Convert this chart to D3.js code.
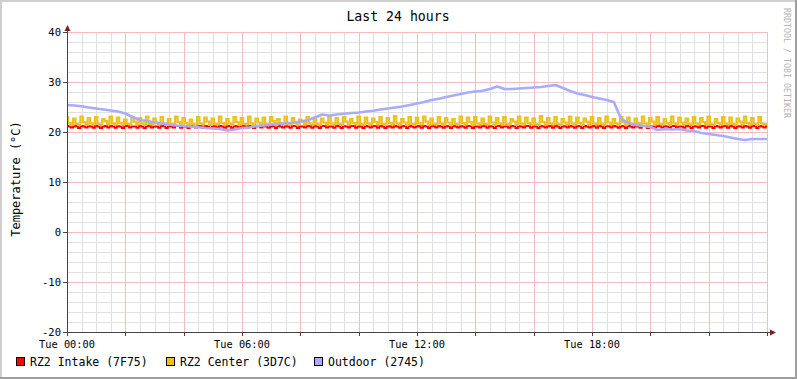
<!DOCTYPE html>
<html>
<head>
<meta charset="utf-8">
<script src="https://cdn.jsdelivr.net/npm/d3@7"></script>
<style>
  html, body { margin: 0; padding: 0; background: #fff; }
  svg { display: block; }
  text { font-family: "DejaVu Sans Mono", monospace; }
</style>
</head>
<body>
<svg id="chart" width="797" height="379"></svg>
<script>
// ---------------- data ----------------
const title = "Last 24 hours";
const yAxisLabel = "Temperature (°C)";
const watermark = "RRDTOOL / TOBI OETIKER";
const xTickHours = [0, 6, 12, 18];
const xTickLabels = ["Tue 00:00", "Tue 06:00", "Tue 12:00", "Tue 18:00"];
const yTicks = [40, 30, 20, 10, 0, -10, -20];
const seriesNames = ["RZ2 Intake (7F75)", "RZ2 Center (3D7C)", "Outdoor (2745)"];
const seriesColors = ["#ff0000", "#ecc11c", "#aaaaff"];

// RZ2 Intake, 5-minute samples, 00:00 .. 24:00
const intake = [
21.2,21.1,20.9, 21.1,21.2,20.8, 21.2,21.1,20.9, 21.15,21.1,20.85, 21.2,21.1,20.8, 21.1,21.2,20.9, 21.2,21.1,20.85, 21.15,21.1,20.8, 21.2,21.2,20.9, 21.1,21.1,20.85, 21.2,21.1,20.8, 21.15,21.2,20.9,
21.1,21.1,20.85, 21.2,21.15,20.8, 21.15,21.1,20.9, 21.2,21.2,20.85, 21.1,21.1,20.8, 21.2,21.1,20.9, 21.15,21.2,20.85, 21.2,21.1,20.8, 21.1,21.15,20.9, 21.2,21.1,20.85, 21.15,21.2,20.8, 21.2,21.1,20.9,
21.1,21.2,20.85, 21.2,21.1,20.8, 21.15,21.15,20.9, 21.2,21.1,20.85, 21.1,21.2,20.8, 21.2,21.1,20.9, 21.15,21.1,20.85, 21.2,21.2,20.8, 21.1,21.1,20.9, 21.2,21.15,20.85, 21.15,21.1,20.8, 21.2,21.2,20.9,
21.1,21.1,20.85, 21.2,21.15,20.8, 21.15,21.1,20.9, 21.2,21.2,20.85, 21.1,21.1,20.8, 21.2,21.1,20.9, 21.15,21.2,20.85, 21.2,21.1,20.8, 21.1,21.15,20.9, 21.2,21.1,20.85, 21.15,21.2,20.8, 21.2,21.1,20.9,
21.1,21.2,20.85, 21.2,21.1,20.8, 21.15,21.15,20.9, 21.2,21.1,20.85, 21.1,21.2,20.8, 21.2,21.1,20.9, 21.15,21.1,20.85, 21.2,21.2,20.8, 21.1,21.1,20.9, 21.2,21.15,20.85, 21.15,21.1,20.8, 21.2,21.2,20.9,
21.1,21.1,20.85, 21.2,21.15,20.8, 21.15,21.1,20.9, 21.2,21.2,20.85, 21.1,21.1,20.8, 21.2,21.1,20.9, 21.15,21.2,20.85, 21.2,21.1,20.8, 21.1,21.15,20.9, 21.2,21.1,20.85, 21.15,21.2,20.8, 21.2,21.1,20.9,
21.1,21.2,20.85, 21.2,21.1,20.8, 21.15,21.15,20.9, 21.2,21.1,20.85, 21.1,21.2,20.8, 21.2,21.1,20.9, 21.15,21.1,20.85, 21.2,21.2,20.8, 21.1,21.1,20.9, 21.2,21.15,20.85, 21.15,21.1,20.8, 21.2,21.2,20.9,
21.1,21.1,20.85, 21.2,21.15,20.8, 21.15,21.1,20.9, 21.2,21.2,20.85, 21.1,21.1,20.8, 21.2,21.1,20.9, 21.15,21.2,20.85, 21.2,21.1,20.8, 21.1,21.15,20.9, 21.2,21.1,20.85, 21.15,21.2,20.8, 21.2,21.1,20.9,
21.15
];

// RZ2 Center, 5-minute samples, 00:00 .. 24:00
const center = [
23.0,21.8,21.5, 22.7,21.6,21.4, 23.1,22.0,21.5, 22.8,21.7,21.5, 23.0,21.6,21.4, 22.6,22.2,21.5, 23.1,21.7,21.5, 22.9,21.8,21.4, 22.5,21.6,21.5, 23.0,22.1,21.5, 22.8,21.7,21.4, 23.1,21.6,21.5,
22.7,21.9,21.5, 23.0,21.7,21.4, 22.6,21.6,21.5, 23.1,22.0,21.5, 22.8,21.8,21.4, 22.5,21.6,21.5, 23.0,21.7,21.5, 22.9,22.1,21.4, 22.7,21.6,21.5, 23.1,21.8,21.5, 22.6,21.7,21.4, 23.0,22.0,21.5,
22.8,21.6,21.5, 23.1,21.7,21.4, 22.7,21.9,21.5, 22.9,21.6,21.5, 23.0,22.2,21.4, 22.6,21.7,21.5, 23.1,21.6,21.5, 22.8,21.8,21.4, 22.5,22.0,21.5, 23.0,21.7,21.5, 22.9,21.6,21.4, 22.7,21.9,21.5,
23.1,21.7,21.5, 22.8,21.6,21.4, 23.0,22.1,21.5, 22.6,21.8,21.5, 23.1,21.6,21.4, 22.9,21.7,21.5, 22.7,22.0,21.5, 23.0,21.6,21.4, 22.8,21.8,21.5, 23.2,21.7,21.5, 22.6,21.9,21.4, 23.0,21.6,21.5,
22.9,21.8,21.5, 23.1,22.1,21.4, 22.7,21.6,21.5, 23.0,21.7,21.5, 22.8,21.9,21.4, 22.6,21.6,21.5, 23.1,21.8,21.5, 22.9,22.0,21.4, 23.0,21.7,21.5, 22.7,21.6,21.5, 23.1,21.9,21.4, 22.8,21.7,21.5,
23.0,21.6,21.5, 22.6,22.1,21.4, 23.1,21.7,21.5, 22.9,21.8,21.5, 22.7,21.6,21.4, 23.2,22.0,21.5, 22.8,21.7,21.5, 23.0,21.6,21.4, 22.6,21.9,21.5, 23.1,21.7,21.5, 22.9,21.8,21.4, 22.7,22.1,21.5,
23.0,21.7,21.5, 22.8,21.6,21.4, 23.1,21.9,21.5, 22.6,21.7,21.5, 23.0,22.0,21.4, 22.9,21.6,21.5, 22.7,21.8,21.5, 23.1,21.7,21.4, 22.8,22.1,21.5, 23.0,21.6,21.5, 22.6,21.8,21.4, 23.1,21.7,21.5,
22.9,21.9,21.5, 22.7,21.6,21.4, 23.0,21.7,21.5, 22.8,22.0,21.5, 23.1,21.6,21.4, 22.6,21.8,21.5, 23.0,21.7,21.5, 22.9,21.6,21.4, 22.7,22.1,21.5, 23.1,21.8,21.5, 22.8,21.6,21.4, 23.0,21.7,21.5,
21.6
];

// Outdoor, 15-minute samples, 00:00 .. 24:00
const outdoor = [
25.4,25.3,25.15,24.9,24.7,24.5,24.3,24.1,23.7,23.0,22.4,22.2,21.9,21.7,21.5,21.3,
21.2,21.1,20.95,20.8,20.7,20.6,20.3,20.5,20.8,20.9,21.2,21.3,21.5,21.6,21.75,21.85,
22.1,22.35,22.9,23.5,23.3,23.5,23.65,23.8,23.9,24.1,24.25,24.5,24.7,24.9,25.1,25.4,
25.7,26.0,26.4,26.65,27.0,27.3,27.6,27.9,28.1,28.25,28.6,29.1,28.6,28.6,28.7,28.8,
28.9,29.0,29.2,29.4,28.8,28.2,27.7,27.4,27.0,26.7,26.4,26.0,22.6,21.8,21.4,21.2,
21.0,20.4,20.6,20.5,20.6,20.3,20.2,19.8,19.6,19.4,19.2,18.9,18.6,18.4,18.6,18.6,
18.6
];

// ---------------- chart ----------------
const W = 797, H = 379;
const svg = d3.select("#chart");

svg.append("rect").attr("x", 0).attr("y", 0).attr("width", W).attr("height", H).attr("fill", "#ffffff");
// frame shading
svg.append("rect").attr("x", 0).attr("y", 0).attr("width", W).attr("height", 2).attr("fill", "#cfcfcf");
svg.append("rect").attr("x", 0).attr("y", 0).attr("width", 2).attr("height", H).attr("fill", "#cfcfcf");
svg.append("rect").attr("x", W - 2).attr("y", 0).attr("width", 2).attr("height", H).attr("fill", "#9e9e9e");
svg.append("rect").attr("x", 0).attr("y", H - 2).attr("width", W).attr("height", 2).attr("fill", "#9e9e9e");

const x = d3.scaleLinear().domain([0, 24]).range([67, 767]);
const y = d3.scaleLinear().domain([-20, 40]).range([332, 32]);

const grid = svg.append("g").attr("shape-rendering", "crispEdges");
// minor grid
const minorX = d3.range(0, 24.01, 0.5).filter(h => h % 2 !== 0);
const minorY = d3.range(-20, 40.01, 2).filter(v => v % 10 !== 0);
grid.selectAll(".mx").data(minorX).join("line")
  .attr("x1", d => Math.round(x(d)) + 0.5).attr("x2", d => Math.round(x(d)) + 0.5)
  .attr("y1", y(40)).attr("y2", y(-20))
  .attr("stroke", "#e0e0e0").attr("stroke-width", 1);
grid.selectAll(".my").data(minorY).join("line")
  .attr("y1", d => Math.round(y(d)) + 0.5).attr("y2", d => Math.round(y(d)) + 0.5)
  .attr("x1", x(0)).attr("x2", x(24))
  .attr("stroke", "#e0e0e0").attr("stroke-width", 1);
// major grid
const majorX = d3.range(2, 24.01, 2);
const majorY = d3.range(-10, 40.01, 10);
grid.selectAll(".Mx").data(majorX).join("line")
  .attr("x1", d => Math.round(x(d)) + 0.5).attr("x2", d => Math.round(x(d)) + 0.5)
  .attr("y1", y(40)).attr("y2", y(-20))
  .attr("stroke", "#f4bcbc").attr("stroke-width", 1);
grid.selectAll(".My").data(majorY).join("line")
  .attr("y1", d => Math.round(y(d)) + 0.5).attr("y2", d => Math.round(y(d)) + 0.5)
  .attr("x1", x(0)).attr("x2", x(24))
  .attr("stroke", "#f4bcbc").attr("stroke-width", 1);

// series
const step5 = 5 / 60, step15 = 15 / 60;
const lineStep = d3.line().x(d => x(d[0])).y(d => y(d[1])).curve(d3.curveStep);
const lineLin = d3.line().x(d => x(d[0])).y(d => y(d[1]));
const plot = svg.append("g");
plot.append("path").datum(intake.map((v, i) => [i * step5, v]))
  .attr("d", lineStep).attr("fill", "none").attr("stroke", seriesColors[0]).attr("stroke-width", 1.8);
plot.append("path").datum(center.map((v, i) => [i * step5, v]))
  .attr("d", lineStep).attr("fill", "none").attr("stroke", seriesColors[1]).attr("stroke-width", 2.2);
plot.append("path").datum(outdoor.map((v, i) => [i * step15, v]))
  .attr("d", lineLin).attr("fill", "none").attr("stroke", seriesColors[2]).attr("stroke-width", 2.6)
  .attr("stroke-linejoin", "round");

// axes
const ax = svg.append("g").attr("shape-rendering", "crispEdges");
ax.append("line").attr("x1", 64).attr("x2", 772).attr("y1", y(-20) + 0.5).attr("y2", y(-20) + 0.5)
  .attr("stroke", "#444").attr("stroke-width", 1);
ax.append("line").attr("x1", 67.5).attr("x2", 67.5).attr("y1", 336).attr("y2", 28)
  .attr("stroke", "#444").attr("stroke-width", 1);
// ticks
ax.selectAll(".tx").data(d3.range(0, 24.01, 2)).join("line")
  .attr("x1", d => Math.round(x(d)) + 0.5).attr("x2", d => Math.round(x(d)) + 0.5)
  .attr("y1", 332).attr("y2", 336).attr("stroke", "#444");
ax.selectAll(".ty").data(yTicks).join("line")
  .attr("y1", d => Math.round(y(d)) + 0.5).attr("y2", d => Math.round(y(d)) + 0.5)
  .attr("x1", 63).attr("x2", 67).attr("stroke", "#444");
// arrows
svg.append("path").attr("d", "M67.5,25 L64.5,31 L70.5,31 Z").attr("fill", "#801f1f");
svg.append("path").attr("d", "M776,332.5 L770,329.5 L770,335.5 Z").attr("fill", "#801f1f");

// tick labels
svg.selectAll(".ylab").data(yTicks).join("text")
  .attr("x", 61).attr("y", d => y(d) + 4)
  .attr("text-anchor", "end").attr("font-size", 10.5).attr("fill", "#000")
  .text(d => d);
svg.selectAll(".xlab").data(xTickHours).join("text")
  .attr("x", d => x(d)).attr("y", 348)
  .attr("text-anchor", "middle").attr("font-size", 10.3).attr("fill", "#000")
  .text((d, i) => xTickLabels[i]);

// title
svg.append("text").attr("x", 398).attr("y", 21).attr("text-anchor", "middle")
  .attr("font-size", 13.2).attr("fill", "#000").text(title);

// y axis label
svg.append("text").attr("transform", "translate(20,179) rotate(-90)")
  .attr("text-anchor", "middle").attr("font-size", 12).attr("fill", "#000").text(yAxisLabel);

// watermark
svg.append("text").attr("transform", "translate(784,8) rotate(90)")
  .attr("text-anchor", "start").attr("font-size", 8.3).attr("fill", "#b4b4b4").text(watermark);

// legend
const legendX = [16, 166, 314];
const lg = svg.selectAll(".lg").data(seriesNames).join("g")
  .attr("transform", (d, i) => `translate(${legendX[i]},357)`);
lg.append("rect").attr("x", 0.5).attr("y", 0.5).attr("width", 8).attr("height", 8)
  .attr("fill", (d, i) => seriesColors[i]).attr("stroke", "#000").attr("stroke-width", 1);
lg.append("text").attr("x", 14).attr("y", 8.5).attr("font-size", 11.5).attr("fill", "#000").text(d => d);
</script>
</body>
</html>
